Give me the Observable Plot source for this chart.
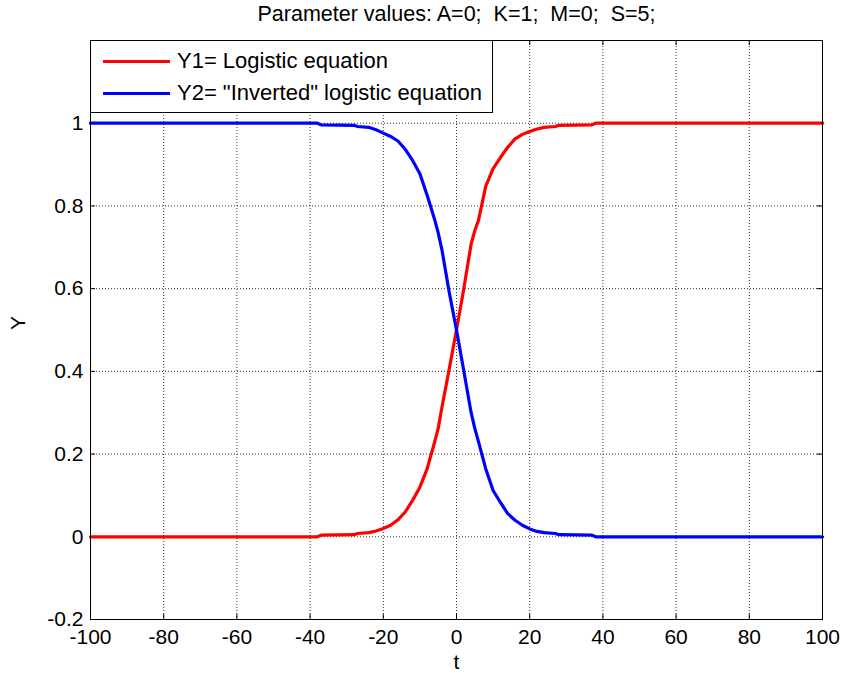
<!DOCTYPE html>
<html>
<head>
<meta charset="utf-8">
<script src="https://cdn.jsdelivr.net/npm/d3@7"></script>
<script src="https://cdn.jsdelivr.net/npm/@observablehq/plot@0.6"></script>
<style>
  body { margin: 0; background: #fff; }
  #wrap { position: relative; width: 842px; height: 674px; font-family: "Liberation Sans", Arial, sans-serif; }
  .legend { position: absolute; left: 90px; top: 40px; width: 403px; height: 73px; background: #fff;
            border: 1px solid #000; box-sizing: border-box; }
  .entry { position: absolute; left: 12px; height: 26px; display: flex; align-items: center; font-size: 22px; color: #000; white-space: pre; }
  .swatch { width: 67px; height: 3px; margin-right: 7px; }
</style>
</head>
<body>
<div id="wrap"></div>
<script>
// Sample points of t and the two curves
const tValues = [-100, -38, -37, -28, -27, -24, -22, -20, -18, -16, -14, -12, -10, -8, -6, -5, -4, -2,
  0, 2, 4, 5, 6, 8, 10, 12, 14, 16, 18, 20, 22, 24, 27, 28, 37, 38, 100];

// Y1 = logistic equation
const y1Values = [0.000, 0.000, 0.004, 0.005, 0.008, 0.010, 0.014, 0.020, 0.028, 0.041, 0.060, 0.088, 0.120,
  0.165, 0.228, 0.262, 0.312, 0.405, 0.500, 0.600, 0.708, 0.740, 0.765, 0.848, 0.890, 0.917, 0.942,
  0.962, 0.973, 0.980, 0.986, 0.990, 0.992, 0.995, 0.996, 1.000, 1.000];

// Y2 = "inverted" logistic equation
const y2Values = [1.000, 1.000, 0.996, 0.995, 0.992, 0.990, 0.984, 0.976, 0.968, 0.957, 0.937, 0.910, 0.878,
  0.825, 0.768, 0.735, 0.695, 0.592, 0.500, 0.401, 0.300, 0.262, 0.230, 0.164, 0.112, 0.083, 0.056,
  0.040, 0.028, 0.019, 0.013, 0.010, 0.008, 0.005, 0.004, 0.000, 0.000];

const seriesNames = ["Y1= Logistic equation", "Y2= \"Inverted\" logistic equation"];
const seriesColors = ["#ff0000", "#0000ff"];

const xTicks = [-100, -80, -60, -40, -20, 0, 20, 40, 60, 80, 100];
const yTicks = [-0.2, 0, 0.2, 0.4, 0.6, 0.8, 1];

const titleText = "Parameter values: A=0;\u00a0\u00a0K=1;\u00a0\u00a0M=0;\u00a0\u00a0S=5;";

const rows = tValues.flatMap((t, i) => [
  {t, y: y1Values[i], series: seriesNames[0]},
  {t, y: y2Values[i], series: seriesNames[1]}
]);

const fmt = d => String(+d.toFixed(1));
const blank = () => "";
const gridStyle = {stroke: "#333", strokeOpacity: 1, strokeDasharray: "1,2"};

// Frame size in pixels, used to keep the inward tick marks 5px long
const W = 842, H = 674, mL = 90, mR = 20, mT = 40, mB = 55;
const frameW = W - mL - mR, frameH = H - mT - mB, tick = 5;

const chart = Plot.plot({
  width: W,
  height: H,
  marginLeft: mL,
  marginRight: mR,
  marginTop: mT,
  marginBottom: mB,
  style: {fontFamily: "\"Liberation Sans\", Arial, sans-serif", fontSize: "21px", background: "#fff", color: "#000", overflow: "visible"},
  x: {domain: [-100, 100], label: null},
  y: {domain: [-0.2, 1.2], label: null},
  color: {domain: seriesNames, range: seriesColors},
  marks: [
    Plot.gridX(xTicks, gridStyle),
    Plot.gridY(yTicks, gridStyle),
    // inward tick marks on all four sides
    Plot.ruleX(xTicks, {x: d => d, insetTop: frameH - tick, stroke: "#000"}),
    Plot.ruleX(xTicks, {x: d => d, insetBottom: frameH - tick, stroke: "#000"}),
    Plot.ruleY(yTicks, {y: d => d, insetRight: frameW - tick, stroke: "#000"}),
    Plot.ruleY(yTicks, {y: d => d, insetLeft: frameW - tick, stroke: "#000"}),
    Plot.axisX(xTicks, {anchor: "bottom", tickSize: 0, tickPadding: 10, tickFormat: d => String(d), label: null}),
    Plot.axisY(yTicks, {anchor: "left", tickSize: 0, tickPadding: 7, tickFormat: fmt, label: null}),
    Plot.line(rows, {x: "t", y: "y", z: "series", stroke: "series", strokeWidth: 3.2}),
    Plot.frame({stroke: "#000"}),
    Plot.text([titleText], {frameAnchor: "top", lineAnchor: "middle", dy: -26, fontSize: 21.5}),
    Plot.text(["t"], {frameAnchor: "bottom", lineAnchor: "middle", dy: 43}),
    Plot.text(["Y"], {frameAnchor: "left", dx: -72, rotate: -90})
  ]
});

const wrap = document.getElementById("wrap");
wrap.appendChild(chart);

// Legend box in the upper-left corner of the axes
const legend = document.createElement("div");
legend.className = "legend";
seriesNames.forEach((name, i) => {
  const entry = document.createElement("div");
  entry.className = "entry";
  entry.style.top = (7 + i * 32) + "px";
  const sw = document.createElement("span");
  sw.className = "swatch";
  sw.style.background = seriesColors[i];
  entry.appendChild(sw);
  entry.appendChild(document.createTextNode(name));
  legend.appendChild(entry);
});
wrap.appendChild(legend);
</script>
</body>
</html>
